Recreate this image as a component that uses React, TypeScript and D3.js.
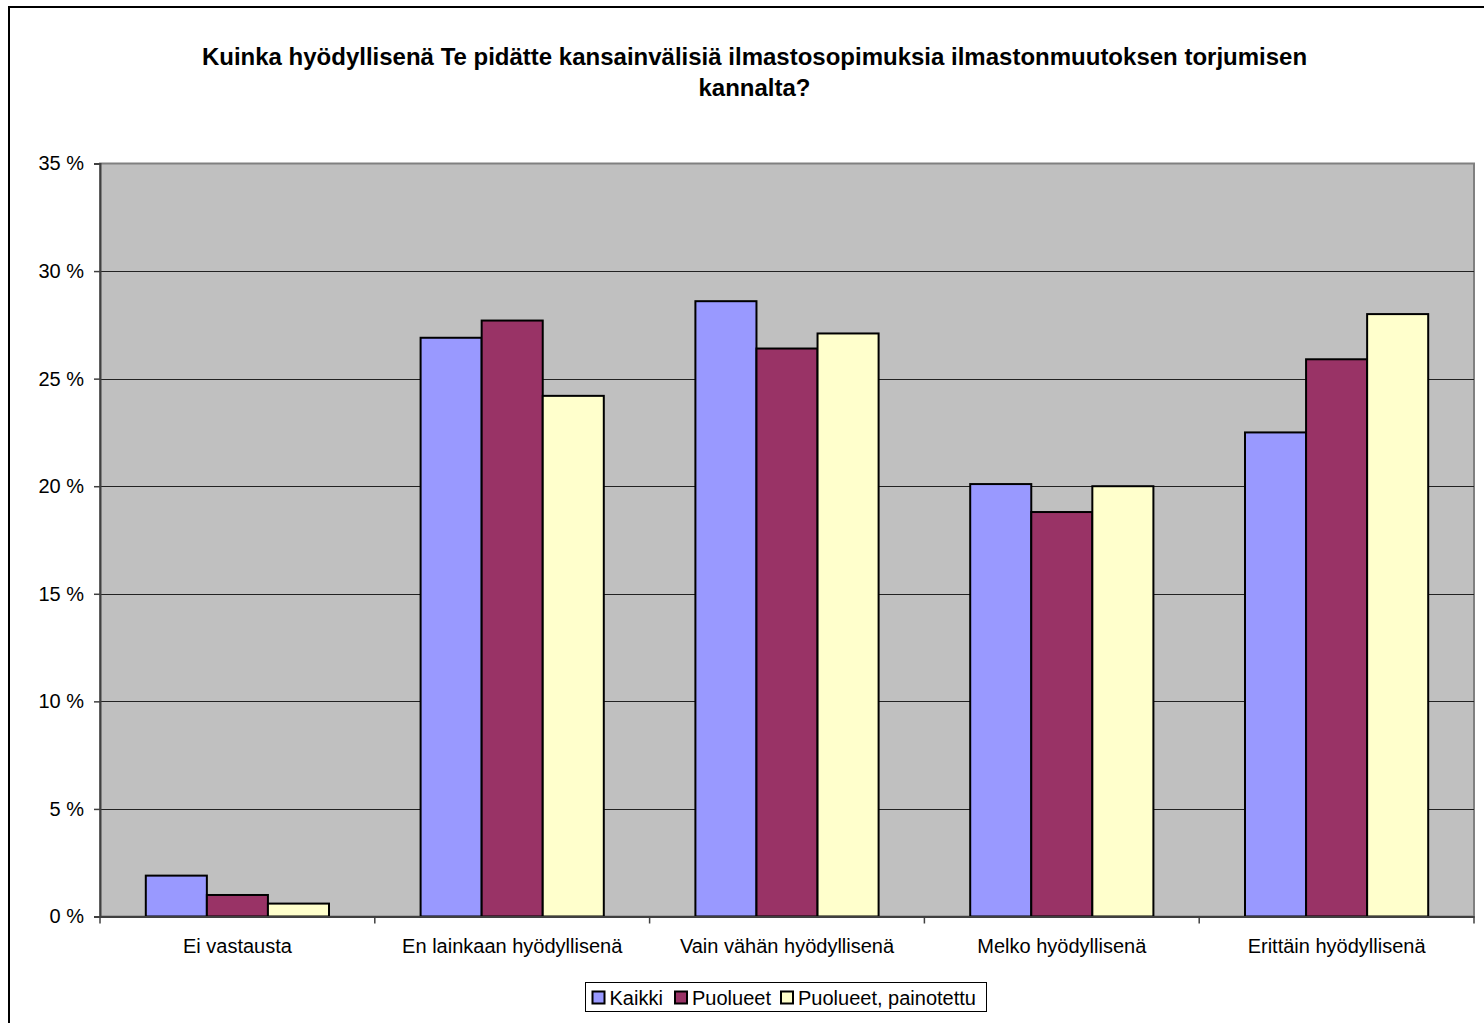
import React, { useEffect, useRef } from "react";
import * as d3 from "d3";

const categories = [
  "Ei vastausta",
  "En lainkaan hyödyllisenä",
  "Vain vähän hyödyllisenä",
  "Melko hyödyllisenä",
  "Erittäin hyödyllisenä",
];
const seriesNames = ["Kaikki", "Puolueet", "Puolueet, painotettu"];
const kaikki = [1.9, 26.9, 28.6, 20.1, 22.5];
const puolueet = [1.0, 27.7, 26.4, 18.8, 25.9];
const painotettu = [0.6, 24.2, 27.1, 20.0, 28.0];
const seriesColors = ["#9999FF", "#993366", "#FFFFCC"];
const yTicks = [0, 5, 10, 15, 20, 25, 30, 35];
const titleLines = [
  "Kuinka hyödyllisenä Te pidätte kansainvälisiä ilmastosopimuksia ilmastonmuutoksen torjumisen",
  "kannalta?",
];

function App() {
  const width = 1484;
  const height = 1023;
  const plotLeft = 100;
  const plotRight = 1474;
  const plotTop = 163.5;
  const plotBottom = 916.5;
  const font = "'Liberation Sans', Arial, sans-serif";
  const svgRef = useRef(null);

  const allSeries = [kaikki, puolueet, painotettu];

  useEffect(() => {
    const svg = d3.select(svgRef.current);

    const xScale = d3
      .scaleBand()
      .domain(categories)
      .range([plotLeft, plotRight])
      .padding(0);

    const gap = xScale.bandwidth() / (3 + 1.5) * 0.75; // excel gap width 150%
    const innerScale = d3
      .scaleBand()
      .domain(seriesNames)
      .range([gap, xScale.bandwidth() - gap]);

    const yScale = d3.scaleLinear().domain([0, 35]).range([plotBottom, plotTop]);

    svg.selectAll("*").remove();

    // outer frame
    svg
      .append("rect")
      .attr("x", 9)
      .attr("y", 7)
      .attr("width", 1600)
      .attr("height", 1200)
      .attr("fill", "#fff")
      .attr("stroke", "#000")
      .attr("stroke-width", 2);

    // title
    svg
      .selectAll(".title")
      .data(titleLines)
      .join("text")
      .attr("class", "title")
      .attr("x", 754.5)
      .attr("y", (d, i) => 65 + i * 31)
      .attr("text-anchor", "middle")
      .attr("font-family", font)
      .attr("font-weight", "bold")
      .attr("font-size", 24)
      .text((d) => d);

    // plot area
    svg
      .append("rect")
      .attr("x", plotLeft)
      .attr("y", plotTop)
      .attr("width", plotRight - plotLeft)
      .attr("height", plotBottom - plotTop)
      .attr("fill", "#C0C0C0")
      .attr("stroke", "#808080")
      .attr("stroke-width", 2);

    // gridlines
    svg
      .selectAll(".grid")
      .data(yTicks.filter((t) => t > 0 && t < 35))
      .join("line")
      .attr("class", "grid")
      .attr("x1", plotLeft)
      .attr("x2", plotRight)
      .attr("y1", (d) => Math.round(yScale(d)) + 0.5)
      .attr("y2", (d) => Math.round(yScale(d)) + 0.5)
      .attr("stroke", "#222")
      .attr("stroke-width", 1);

    // bars
    const groups = svg
      .selectAll(".cat")
      .data(categories)
      .join("g")
      .attr("class", "cat")
      .attr("transform", (d) => `translate(${xScale(d)},0)`);

    groups
      .selectAll("rect")
      .data((d, ci) => seriesNames.map((s, si) => ({ s, si, v: allSeries[si][ci] })))
      .join("rect")
      .attr("x", (d) => innerScale(d.s))
      .attr("y", (d) => yScale(d.v))
      .attr("width", innerScale.bandwidth())
      .attr("height", (d) => plotBottom - yScale(d.v))
      .attr("fill", (d) => seriesColors[d.si])
      .attr("stroke", "#000")
      .attr("stroke-width", 2);

    // y axis
    const yAxis = d3
      .axisLeft(yScale)
      .tickValues(yTicks)
      .tickSize(6)
      .tickPadding(10)
      .tickFormat((d) => `${d} %`);
    const yG = svg
      .append("g")
      .attr("transform", `translate(${plotLeft},0)`)
      .call(yAxis);
    yG.select(".domain").attr("stroke", "#404040").attr("stroke-width", 2);
    yG.selectAll(".tick line").attr("stroke", "#404040").attr("stroke-width", 1.5);
    yG.selectAll(".tick text")
      .attr("font-family", font)
      .attr("font-size", 20)
      .attr("fill", "#000");

    // x axis
    const xAxis = d3.axisBottom(xScale).tickSize(0).tickPadding(22);
    const xG = svg
      .append("g")
      .attr("transform", `translate(0,${plotBottom})`)
      .call(xAxis);
    xG.select(".domain").attr("stroke", "#404040").attr("stroke-width", 2);
    xG.selectAll(".tick text")
      .attr("font-family", font)
      .attr("font-size", 20)
      .attr("fill", "#000");
    // category separators
    svg
      .selectAll(".xsep")
      .data([...categories.map((c) => xScale(c)), plotRight])
      .join("line")
      .attr("class", "xsep")
      .attr("x1", (d) => d)
      .attr("x2", (d) => d)
      .attr("y1", plotBottom)
      .attr("y2", plotBottom + 7)
      .attr("stroke", "#404040")
      .attr("stroke-width", 1.5);

    // legend
    const legendX = 585.5;
    const legendY = 982.5;
    svg
      .append("rect")
      .attr("x", legendX)
      .attr("y", legendY)
      .attr("width", 401)
      .attr("height", 29)
      .attr("fill", "#fff")
      .attr("stroke", "#000")
      .attr("stroke-width", 1);
    const legendOffsets = [7, 89.5, 195.5];
    const items = svg
      .selectAll(".leg")
      .data(seriesNames)
      .join("g")
      .attr("class", "leg")
      .attr("transform", (d, i) => `translate(${legendX + legendOffsets[i]},${legendY})`);
    items
      .append("rect")
      .attr("x", 0)
      .attr("y", 9)
      .attr("width", 12)
      .attr("height", 12)
      .attr("fill", (d, i) => seriesColors[i])
      .attr("stroke", "#000")
      .attr("stroke-width", 2);
    items
      .append("text")
      .attr("x", 17)
      .attr("y", 22)
      .attr("font-family", font)
      .attr("font-size", 20)
      .text((d) => d);
  }, []);

  return (
    <svg
      ref={svgRef}
      width={width}
      height={height}
      style={{ position: "absolute", left: 0, top: 0, background: "#fff" }}
    />
  );
}

export default App;
